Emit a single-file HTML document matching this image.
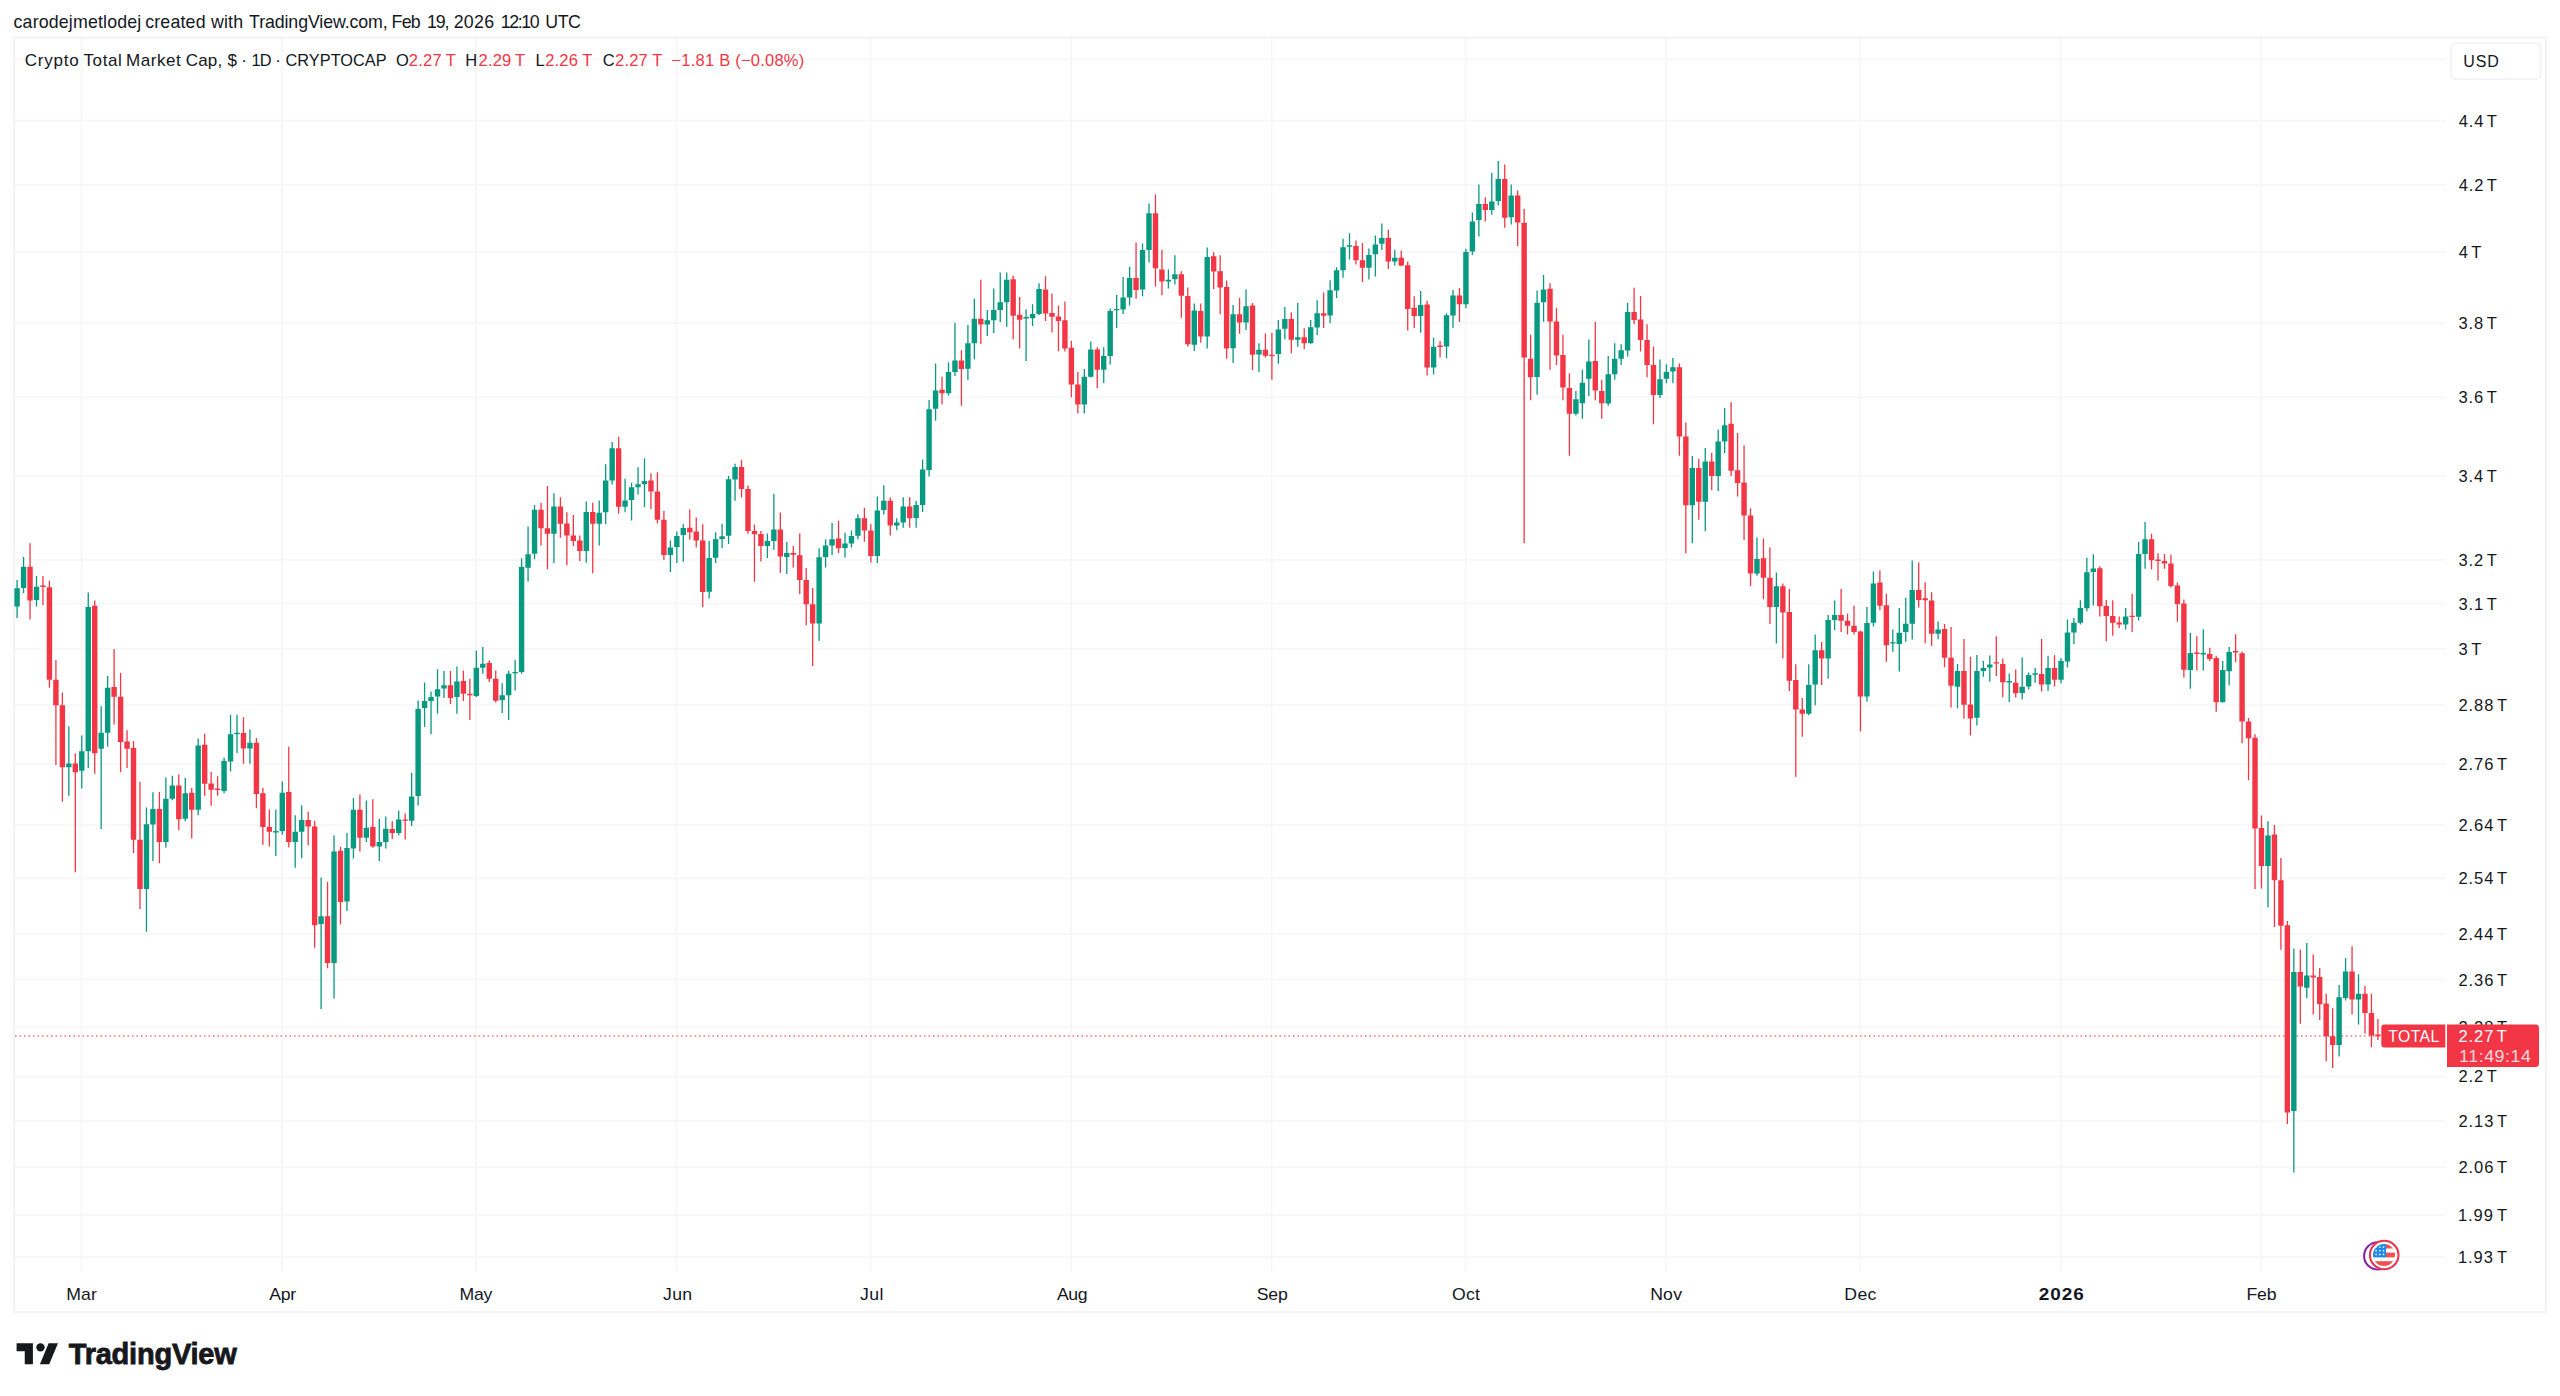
<!DOCTYPE html>
<html lang="en"><head><meta charset="utf-8"><title>Crypto Total Market Cap, $ · 1D · CRYPTOCAP</title>
<style>html,body{margin:0;padding:0;background:#fff;}body{width:2560px;height:1396px;overflow:hidden;}svg{display:block;position:absolute;left:0;top:0;}text{font-family:"Liberation Sans", sans-serif;white-space:pre;}</style></head><body>
<svg width="2560" height="1396" viewBox="0 0 2560 1396">
<rect x="0" y="0" width="2560" height="1396" fill="#fff"/>
<g stroke="#F7F7F9" stroke-width="1.8" fill="none">
<path d="M14.0 59.4H2445.5"/>
<path d="M14.0 120.7H2445.5"/>
<path d="M14.0 184.9H2445.5"/>
<path d="M14.0 252.1H2445.5"/>
<path d="M14.0 322.9H2445.5"/>
<path d="M14.0 397.4H2445.5"/>
<path d="M14.0 476.2H2445.5"/>
<path d="M14.0 559.8H2445.5"/>
<path d="M14.0 603.6H2445.5"/>
<path d="M14.0 648.8H2445.5"/>
<path d="M14.0 705.1H2445.5"/>
<path d="M14.0 763.8H2445.5"/>
<path d="M14.0 825.1H2445.5"/>
<path d="M14.0 878.4H2445.5"/>
<path d="M14.0 933.8H2445.5"/>
<path d="M14.0 979.7H2445.5"/>
<path d="M14.0 1027.3H2445.5"/>
<path d="M14.0 1076.5H2445.5"/>
<path d="M14.0 1121.1H2445.5"/>
<path d="M14.0 1167.2H2445.5"/>
<path d="M14.0 1214.9H2445.5"/>
<path d="M14.0 1257.1H2445.5"/>
<path d="M81.5 37.6V1272.5"/>
<path d="M282.0 37.6V1272.5"/>
<path d="M476.0 37.6V1272.5"/>
<path d="M676.5 37.6V1272.5"/>
<path d="M870.6 37.6V1272.5"/>
<path d="M1071.1 37.6V1272.5"/>
<path d="M1271.6 37.6V1272.5"/>
<path d="M1465.6 37.6V1272.5"/>
<path d="M1666.1 37.6V1272.5"/>
<path d="M1860.2 37.6V1272.5"/>
<path d="M2060.7 37.6V1272.5"/>
<path d="M2261.2 37.6V1272.5"/>
</g>
<rect x="14.0" y="37.6" width="2532.0" height="1274.6000000000001" fill="none" stroke="#F4F4F7" stroke-width="2.2"/>
<path d="M15.0 1036H2381" stroke="#F23645" stroke-width="1.4" stroke-dasharray="1.6 2.9" fill="none" opacity="0.7"/>
<path fill="#089981" d="M16.45 579.9h1.3V618.1h-1.3zM14.40 588.2h5.4V606.4h-5.4zM22.92 557.0h1.3V593.1h-1.3zM20.87 566.7h5.4V587.9h-5.4zM35.85 576.1h1.3V606.4h-1.3zM33.80 586.7h5.4V599.9h-5.4zM68.19 726.2h1.3V795.8h-1.3zM66.14 763.5h5.4V767.3h-5.4zM81.13 735.6h1.3V788.5h-1.3zM79.08 751.2h5.4V770.8h-5.4zM87.60 592.6h1.3V767.9h-1.3zM85.55 606.9h5.4V751.2h-5.4zM100.53 706.2h1.3V829.0h-1.3zM98.48 732.7h5.4V748.8h-5.4zM107.00 676.0h1.3V746.5h-1.3zM104.95 687.7h5.4V732.7h-5.4zM145.81 807.5h1.3V931.8h-1.3zM143.76 824.3h5.4V888.9h-5.4zM152.28 792.3h1.3V861.0h-1.3zM150.23 809.0h5.4V824.6h-5.4zM165.21 777.6h1.3V847.8h-1.3zM163.16 798.7h5.4V841.9h-5.4zM171.68 775.8h1.3V800.2h-1.3zM169.63 785.5h5.4V798.7h-5.4zM184.62 777.9h1.3V821.2h-1.3zM182.57 793.3h5.4V818.8h-5.4zM197.55 738.5h1.3V815.3h-1.3zM195.50 745.6h5.4V809.8h-5.4zM223.43 757.4h1.3V793.3h-1.3zM221.38 760.9h5.4V790.9h-5.4zM229.89 714.8h1.3V771.6h-1.3zM227.84 734.2h5.4V761.6h-5.4zM236.36 714.8h1.3V753.1h-1.3zM234.31 732.8h5.4V734.2h-5.4zM249.30 729.5h1.3V763.8h-1.3zM247.25 742.7h5.4V748.4h-5.4zM275.17 809.4h1.3V855.9h-1.3zM273.12 831.1h5.4V832.5h-5.4zM281.64 781.5h1.3V834.7h-1.3zM279.59 792.8h5.4V831.1h-5.4zM294.57 815.3h1.3V867.8h-1.3zM292.52 831.8h5.4V842.0h-5.4zM301.04 805.4h1.3V858.3h-1.3zM298.99 820.0h5.4V831.8h-5.4zM320.45 877.5h1.3V1009.1h-1.3zM318.40 916.2h5.4V924.0h-5.4zM333.38 835.4h1.3V998.5h-1.3zM331.33 851.5h5.4V963.0h-5.4zM346.32 833.0h1.3V911.0h-1.3zM344.27 847.9h5.4V901.6h-5.4zM352.79 798.0h1.3V858.5h-1.3zM350.74 809.8h5.4V848.4h-5.4zM365.72 800.4h1.3V842.0h-1.3zM363.67 827.8h5.4V837.7h-5.4zM378.66 818.8h1.3V860.9h-1.3zM376.61 842.0h5.4V846.5h-5.4zM385.13 816.5h1.3V848.4h-1.3zM383.08 828.8h5.4V842.0h-5.4zM398.06 810.6h1.3V835.4h-1.3zM396.01 819.5h5.4V833.0h-5.4zM411.00 772.7h1.3V825.9h-1.3zM408.95 796.4h5.4V820.7h-5.4zM417.47 700.6h1.3V805.4h-1.3zM415.42 708.9h5.4V795.9h-5.4zM423.93 682.6h1.3V727.0h-1.3zM421.88 701.0h5.4V708.1h-5.4zM430.40 691.5h1.3V734.3h-1.3zM428.35 697.0h5.4V701.0h-5.4zM436.87 669.3h1.3V713.7h-1.3zM434.82 689.3h5.4V696.4h-5.4zM443.34 671.0h1.3V698.1h-1.3zM441.29 685.3h5.4V688.6h-5.4zM456.27 666.4h1.3V713.7h-1.3zM454.22 681.5h5.4V697.0h-5.4zM475.68 650.4h1.3V697.0h-1.3zM473.63 667.7h5.4V695.9h-5.4zM482.15 647.1h1.3V673.7h-1.3zM480.10 663.7h5.4V667.7h-5.4zM501.55 683.3h1.3V713.0h-1.3zM499.50 695.3h5.4V699.9h-5.4zM508.02 670.8h1.3V719.9h-1.3zM505.97 673.7h5.4V695.3h-5.4zM514.49 659.7h1.3V690.4h-1.3zM512.44 671.9h5.4V673.3h-5.4zM520.95 558.2h1.3V673.7h-1.3zM518.90 567.1h5.4V671.9h-5.4zM527.42 526.5h1.3V581.6h-1.3zM525.37 554.2h5.4V567.8h-5.4zM533.89 504.9h1.3V559.3h-1.3zM531.84 509.8h5.4V553.8h-5.4zM553.29 493.2h1.3V563.1h-1.3zM551.24 506.5h5.4V533.8h-5.4zM585.63 501.6h1.3V562.7h-1.3zM583.58 512.0h5.4V551.1h-5.4zM598.57 500.5h1.3V545.6h-1.3zM596.52 512.7h5.4V523.8h-5.4zM605.04 464.3h1.3V524.3h-1.3zM602.99 480.5h5.4V512.3h-5.4zM611.51 442.1h1.3V484.5h-1.3zM609.46 448.3h5.4V480.5h-5.4zM624.44 478.7h1.3V512.3h-1.3zM622.39 500.5h5.4V506.7h-5.4zM630.91 482.7h1.3V520.5h-1.3zM628.86 487.2h5.4V500.1h-5.4zM637.38 467.2h1.3V494.5h-1.3zM635.33 484.3h5.4V487.2h-5.4zM643.85 458.3h1.3V507.2h-1.3zM641.80 481.0h5.4V484.3h-5.4zM669.72 540.5h1.3V572.0h-1.3zM667.67 547.6h5.4V554.9h-5.4zM676.19 531.6h1.3V563.1h-1.3zM674.14 536.0h5.4V547.1h-5.4zM682.65 524.2h1.3V561.7h-1.3zM680.60 528.0h5.4V534.9h-5.4zM708.53 540.9h1.3V598.5h-1.3zM706.48 558.1h5.4V591.8h-5.4zM714.99 532.3h1.3V562.9h-1.3zM712.94 539.2h5.4V557.8h-5.4zM721.46 523.7h1.3V548.3h-1.3zM719.41 536.3h5.4V538.9h-5.4zM727.93 475.8h1.3V544.0h-1.3zM725.88 479.2h5.4V535.8h-5.4zM734.40 463.7h1.3V500.7h-1.3zM732.35 467.0h5.4V479.5h-5.4zM766.74 533.4h1.3V558.1h-1.3zM764.69 540.9h5.4V546.1h-5.4zM773.21 493.8h1.3V550.0h-1.3zM771.16 529.4h5.4V540.9h-5.4zM786.14 541.9h1.3V574.1h-1.3zM784.09 553.1h5.4V556.9h-5.4zM818.48 548.3h1.3V641.1h-1.3zM816.43 557.2h5.4V623.6h-5.4zM824.95 539.2h1.3V567.6h-1.3zM822.90 545.4h5.4V556.9h-5.4zM831.42 523.0h1.3V555.2h-1.3zM829.37 539.2h5.4V545.4h-5.4zM844.35 532.8h1.3V557.4h-1.3zM842.30 543.5h5.4V548.0h-5.4zM850.82 530.6h1.3V547.4h-1.3zM848.77 535.9h5.4V543.5h-5.4zM857.29 514.3h1.3V539.2h-1.3zM855.24 518.2h5.4V535.8h-5.4zM876.69 496.4h1.3V562.9h-1.3zM874.64 510.5h5.4V556.0h-5.4zM883.16 485.2h1.3V514.4h-1.3zM881.11 500.7h5.4V510.1h-5.4zM896.10 518.2h1.3V530.3h-1.3zM894.05 522.5h5.4V525.4h-5.4zM902.57 497.2h1.3V527.7h-1.3zM900.52 506.5h5.4V522.5h-5.4zM915.50 500.7h1.3V527.7h-1.3zM913.45 505.0h5.4V517.9h-5.4zM921.97 459.4h1.3V511.9h-1.3zM919.92 469.6h5.4V505.0h-5.4zM928.44 400.1h1.3V476.4h-1.3zM926.39 409.2h5.4V470.0h-5.4zM934.91 363.4h1.3V420.7h-1.3zM932.86 390.4h5.4V408.8h-5.4zM947.84 362.2h1.3V395.5h-1.3zM945.79 372.1h5.4V393.2h-5.4zM954.31 322.8h1.3V376.0h-1.3zM952.26 360.6h5.4V372.1h-5.4zM967.25 325.1h1.3V379.9h-1.3zM965.20 343.2h5.4V368.7h-5.4zM973.71 298.5h1.3V359.3h-1.3zM971.66 318.7h5.4V343.2h-5.4zM986.65 310.0h1.3V335.9h-1.3zM984.60 320.3h5.4V324.4h-5.4zM993.12 288.4h1.3V333.1h-1.3zM991.07 310.0h5.4V320.3h-5.4zM999.59 272.4h1.3V322.1h-1.3zM997.54 302.2h5.4V310.0h-5.4zM1006.05 272.4h1.3V326.7h-1.3zM1004.00 279.7h5.4V302.2h-5.4zM1025.46 309.5h1.3V361.1h-1.3zM1023.41 317.0h5.4V318.4h-5.4zM1031.93 304.2h1.3V326.0h-1.3zM1029.88 314.1h5.4V318.2h-5.4zM1038.39 283.2h1.3V315.2h-1.3zM1036.34 288.9h5.4V314.1h-5.4zM1083.67 369.1h1.3V413.4h-1.3zM1081.62 376.7h5.4V404.6h-5.4zM1090.14 341.6h1.3V377.6h-1.3zM1088.09 349.6h5.4V376.7h-5.4zM1103.07 347.3h1.3V382.9h-1.3zM1101.02 356.0h5.4V369.8h-5.4zM1109.54 308.4h1.3V364.5h-1.3zM1107.49 311.1h5.4V356.0h-5.4zM1116.01 295.1h1.3V327.9h-1.3zM1113.96 308.9h5.4V310.3h-5.4zM1122.48 277.0h1.3V314.1h-1.3zM1120.43 297.4h5.4V309.5h-5.4zM1128.95 267.1h1.3V305.4h-1.3zM1126.90 277.9h5.4V297.4h-5.4zM1141.88 243.5h1.3V296.2h-1.3zM1139.83 249.9h5.4V289.6h-5.4zM1148.35 203.4h1.3V262.5h-1.3zM1146.30 213.2h5.4V249.9h-5.4zM1167.75 269.4h1.3V288.4h-1.3zM1165.70 279.7h5.4V281.5h-5.4zM1174.22 255.2h1.3V284.5h-1.3zM1172.17 274.2h5.4V279.2h-5.4zM1193.63 303.4h1.3V351.1h-1.3zM1191.58 310.6h5.4V344.7h-5.4zM1206.56 247.6h1.3V348.6h-1.3zM1204.51 257.0h5.4V336.5h-5.4zM1232.43 304.9h1.3V362.9h-1.3zM1230.38 314.2h5.4V348.3h-5.4zM1245.37 289.5h1.3V330.1h-1.3zM1243.32 306.3h5.4V322.5h-5.4zM1258.31 343.3h1.3V371.9h-1.3zM1256.26 349.7h5.4V354.4h-5.4zM1277.71 319.9h1.3V363.8h-1.3zM1275.66 329.4h5.4V354.0h-5.4zM1284.18 307.0h1.3V339.3h-1.3zM1282.13 318.9h5.4V328.7h-5.4zM1297.11 302.9h1.3V346.8h-1.3zM1295.06 337.2h5.4V339.7h-5.4zM1310.05 319.9h1.3V343.7h-1.3zM1308.00 327.2h5.4V343.3h-5.4zM1316.52 300.3h1.3V335.1h-1.3zM1314.47 313.2h5.4V327.5h-5.4zM1329.45 280.2h1.3V323.2h-1.3zM1327.40 290.3h5.4V315.6h-5.4zM1335.92 267.3h1.3V298.1h-1.3zM1333.87 270.2h5.4V290.5h-5.4zM1342.39 238.7h1.3V277.8h-1.3zM1340.34 247.3h5.4V270.2h-5.4zM1348.86 233.2h1.3V259.5h-1.3zM1346.81 245.3h5.4V246.7h-5.4zM1368.26 248.4h1.3V279.5h-1.3zM1366.21 254.9h5.4V267.8h-5.4zM1374.73 235.4h1.3V276.4h-1.3zM1372.68 244.4h5.4V254.2h-5.4zM1381.20 223.4h1.3V250.1h-1.3zM1379.15 238.0h5.4V243.7h-5.4zM1394.13 249.7h1.3V265.6h-1.3zM1392.08 257.7h5.4V261.6h-5.4zM1420.01 291.0h1.3V332.8h-1.3zM1417.96 305.0h5.4V316.0h-5.4zM1432.94 337.8h1.3V374.4h-1.3zM1430.89 346.8h5.4V367.6h-5.4zM1445.88 313.2h1.3V358.3h-1.3zM1443.83 315.3h5.4V346.6h-5.4zM1452.35 289.9h1.3V327.7h-1.3zM1450.30 295.5h5.4V315.4h-5.4zM1465.28 248.8h1.3V308.3h-1.3zM1463.23 252.1h5.4V304.3h-5.4zM1471.75 212.6h1.3V255.0h-1.3zM1469.70 221.5h5.4V251.5h-5.4zM1478.22 184.4h1.3V236.6h-1.3zM1476.17 204.0h5.4V219.9h-5.4zM1491.15 172.9h1.3V214.8h-1.3zM1489.10 201.5h5.4V210.0h-5.4zM1497.62 161.1h1.3V205.5h-1.3zM1495.57 178.9h5.4V201.1h-5.4zM1510.56 184.4h1.3V224.4h-1.3zM1508.51 195.5h5.4V217.3h-5.4zM1536.43 290.6h1.3V394.7h-1.3zM1534.38 302.8h5.4V376.9h-5.4zM1542.90 275.0h1.3V321.7h-1.3zM1540.85 289.5h5.4V302.3h-5.4zM1575.24 390.9h1.3V415.4h-1.3zM1573.19 399.2h5.4V413.8h-5.4zM1581.71 369.8h1.3V418.7h-1.3zM1579.66 382.7h5.4V403.2h-5.4zM1588.17 339.4h1.3V396.0h-1.3zM1586.12 361.6h5.4V378.7h-5.4zM1607.58 355.9h1.3V405.8h-1.3zM1605.53 374.3h5.4V403.6h-5.4zM1614.05 343.2h1.3V379.8h-1.3zM1612.00 358.7h5.4V374.3h-5.4zM1620.51 344.3h1.3V365.0h-1.3zM1618.46 350.3h5.4V358.7h-5.4zM1626.98 302.8h1.3V356.5h-1.3zM1624.93 312.1h5.4V350.5h-5.4zM1659.32 359.4h1.3V398.0h-1.3zM1657.27 379.2h5.4V394.9h-5.4zM1665.79 364.3h1.3V383.2h-1.3zM1663.74 372.1h5.4V378.7h-5.4zM1672.26 358.1h1.3V383.2h-1.3zM1670.21 367.2h5.4V371.6h-5.4zM1691.66 455.9h1.3V543.3h-1.3zM1689.61 467.9h5.4V505.2h-5.4zM1704.60 447.9h1.3V531.3h-1.3zM1702.55 461.6h5.4V501.7h-5.4zM1717.53 429.5h1.3V491.1h-1.3zM1715.48 441.6h5.4V476.0h-5.4zM1724.00 408.1h1.3V453.0h-1.3zM1721.95 425.2h5.4V441.6h-5.4zM1756.34 537.6h1.3V575.7h-1.3zM1754.29 559.1h5.4V573.4h-5.4zM1775.75 572.5h1.3V643.6h-1.3zM1773.70 586.3h5.4V606.9h-5.4zM1808.09 664.2h1.3V715.2h-1.3zM1806.04 685.1h5.4V713.8h-5.4zM1814.55 634.4h1.3V705.2h-1.3zM1812.50 650.2h5.4V684.6h-5.4zM1827.49 614.9h1.3V678.5h-1.3zM1825.44 620.1h5.4V658.5h-5.4zM1833.96 600.6h1.3V630.1h-1.3zM1831.91 614.9h5.4V620.1h-5.4zM1866.30 606.9h1.3V701.5h-1.3zM1864.25 623.0h5.4V696.6h-5.4zM1872.77 571.4h1.3V626.4h-1.3zM1870.72 583.4h5.4V622.7h-5.4zM1892.17 629.5h1.3V651.7h-1.3zM1890.12 642.2h5.4V643.6h-5.4zM1898.64 608.1h1.3V671.4h-1.3zM1896.59 632.8h5.4V643.9h-5.4zM1905.11 598.0h1.3V641.7h-1.3zM1903.06 623.8h5.4V632.0h-5.4zM1911.57 560.5h1.3V639.6h-1.3zM1909.52 590.1h5.4V623.8h-5.4zM1937.45 621.4h1.3V639.3h-1.3zM1935.40 629.5h5.4V633.8h-5.4zM1956.85 663.9h1.3V708.3h-1.3zM1954.80 671.1h5.4V686.8h-5.4zM1976.25 654.9h1.3V725.5h-1.3zM1974.20 671.1h5.4V717.7h-5.4zM1982.72 661.1h1.3V676.8h-1.3zM1980.67 667.9h5.4V671.1h-5.4zM1989.19 655.6h1.3V681.8h-1.3zM1987.14 664.4h5.4V667.5h-5.4zM2008.59 673.5h1.3V701.9h-1.3zM2006.54 681.0h5.4V682.4h-5.4zM2021.53 657.5h1.3V699.5h-1.3zM2019.48 686.8h5.4V692.9h-5.4zM2028.00 672.5h1.3V689.4h-1.3zM2025.95 675.1h5.4V686.6h-5.4zM2034.47 667.9h1.3V682.8h-1.3zM2032.42 673.2h5.4V674.7h-5.4zM2047.40 655.8h1.3V690.9h-1.3zM2045.35 667.9h5.4V684.4h-5.4zM2060.34 657.9h1.3V683.3h-1.3zM2058.29 661.1h5.4V679.7h-5.4zM2066.81 619.5h1.3V667.5h-1.3zM2064.76 632.4h5.4V661.5h-5.4zM2073.27 618.1h1.3V643.9h-1.3zM2071.22 622.8h5.4V632.4h-5.4zM2079.74 600.2h1.3V624.5h-1.3zM2077.69 608.1h5.4V622.8h-5.4zM2086.21 557.9h1.3V611.2h-1.3zM2084.16 572.2h5.4V608.3h-5.4zM2092.68 554.3h1.3V605.6h-1.3zM2090.63 568.4h5.4V571.9h-5.4zM2125.02 608.1h1.3V629.5h-1.3zM2122.97 616.6h5.4V624.5h-5.4zM2137.95 542.1h1.3V620.4h-1.3zM2135.90 553.9h5.4V616.7h-5.4zM2144.42 522.0h1.3V568.7h-1.3zM2142.37 539.3h5.4V554.1h-5.4zM2189.70 632.9h1.3V688.8h-1.3zM2187.65 653.0h5.4V670.1h-5.4zM2202.63 629.3h1.3V670.6h-1.3zM2200.58 653.0h5.4V654.4h-5.4zM2222.04 660.9h1.3V702.8h-1.3zM2219.99 670.1h5.4V701.9h-5.4zM2228.51 646.9h1.3V685.2h-1.3zM2226.46 651.9h5.4V671.2h-5.4zM2267.31 821.2h1.3V907.5h-1.3zM2265.26 835.4h5.4V866.1h-5.4zM2293.19 948.4h1.3V1172.4h-1.3zM2291.14 972.0h5.4V1110.9h-5.4zM2306.12 942.9h1.3V998.2h-1.3zM2304.07 975.6h5.4V987.8h-5.4zM2338.46 985.1h1.3V1056.4h-1.3zM2336.41 997.3h5.4V1045.0h-5.4zM2344.93 957.9h1.3V1000.6h-1.3zM2342.88 971.5h5.4V997.9h-5.4zM2357.87 974.2h1.3V1024.6h-1.3zM2355.82 993.8h5.4V999.5h-5.4z"/>
<path fill="#F23645" d="M29.39 543.2h1.3V619.6h-1.3zM27.34 566.7h5.4V600.5h-5.4zM42.32 576.1h1.3V604.9h-1.3zM40.27 585.5h5.4V586.9h-5.4zM48.79 580.8h1.3V687.7h-1.3zM46.74 587.3h5.4V679.8h-5.4zM55.26 660.1h1.3V765.0h-1.3zM53.21 679.8h5.4V705.3h-5.4zM61.73 692.4h1.3V801.7h-1.3zM59.68 705.3h5.4V767.3h-5.4zM74.66 753.2h1.3V872.2h-1.3zM72.61 763.5h5.4V772.3h-5.4zM94.07 600.5h1.3V773.8h-1.3zM92.02 605.8h5.4V753.2h-5.4zM113.47 648.9h1.3V724.4h-1.3zM111.42 687.1h5.4V696.8h-5.4zM119.94 673.0h1.3V772.3h-1.3zM117.89 696.8h5.4V742.0h-5.4zM126.41 730.3h1.3V767.9h-1.3zM124.36 741.5h5.4V748.8h-5.4zM132.87 740.9h1.3V853.1h-1.3zM130.82 747.9h5.4V839.8h-5.4zM139.34 781.7h1.3V908.9h-1.3zM137.29 839.8h5.4V888.9h-5.4zM158.75 792.0h1.3V863.3h-1.3zM156.70 809.0h5.4V841.9h-5.4zM178.15 774.4h1.3V830.2h-1.3zM176.10 785.5h5.4V819.3h-5.4zM191.09 788.1h1.3V838.5h-1.3zM189.04 792.8h5.4V809.8h-5.4zM204.02 733.7h1.3V795.7h-1.3zM201.97 744.8h5.4V783.8h-5.4zM210.49 772.0h1.3V805.8h-1.3zM208.44 783.4h5.4V789.8h-5.4zM216.96 776.3h1.3V795.7h-1.3zM214.91 788.6h5.4V790.0h-5.4zM242.83 717.2h1.3V763.8h-1.3zM240.78 733.0h5.4V748.4h-5.4zM255.77 738.0h1.3V808.2h-1.3zM253.72 742.7h5.4V794.0h-5.4zM262.23 788.1h1.3V844.8h-1.3zM260.18 793.3h5.4V827.1h-5.4zM268.70 809.4h1.3V846.5h-1.3zM266.65 827.1h5.4V831.8h-5.4zM288.11 746.7h1.3V847.2h-1.3zM286.06 792.1h5.4V842.0h-5.4zM307.51 811.7h1.3V845.3h-1.3zM305.46 820.0h5.4V826.6h-5.4zM313.98 820.7h1.3V947.7h-1.3zM311.93 826.4h5.4V925.2h-5.4zM326.91 881.9h1.3V968.2h-1.3zM324.86 916.2h5.4V963.0h-5.4zM339.85 846.7h1.3V924.5h-1.3zM337.80 850.7h5.4V902.0h-5.4zM359.25 794.5h1.3V851.5h-1.3zM357.20 809.8h5.4V837.7h-5.4zM372.19 799.2h1.3V847.7h-1.3zM370.14 827.1h5.4V846.5h-5.4zM391.59 821.2h1.3V838.9h-1.3zM389.54 829.0h5.4V833.0h-5.4zM404.53 813.4h1.3V839.6h-1.3zM402.48 819.4h5.4V820.8h-5.4zM449.81 671.0h1.3V704.1h-1.3zM447.76 685.3h5.4V698.1h-5.4zM462.74 670.4h1.3V701.0h-1.3zM460.69 681.0h5.4V693.7h-5.4zM469.21 678.8h1.3V719.9h-1.3zM467.16 693.7h5.4V695.3h-5.4zM488.61 660.4h1.3V682.1h-1.3zM486.56 663.1h5.4V678.8h-5.4zM495.08 670.4h1.3V702.6h-1.3zM493.03 678.8h5.4V700.8h-5.4zM540.36 502.7h1.3V545.6h-1.3zM538.31 509.8h5.4V528.3h-5.4zM546.83 486.1h1.3V569.3h-1.3zM544.78 528.3h5.4V533.8h-5.4zM559.76 497.2h1.3V537.8h-1.3zM557.71 506.5h5.4V523.8h-5.4zM566.23 512.3h1.3V565.3h-1.3zM564.18 523.4h5.4V535.6h-5.4zM572.70 514.9h1.3V546.0h-1.3zM570.65 535.4h5.4V540.9h-5.4zM579.17 535.4h1.3V560.9h-1.3zM577.12 540.5h5.4V551.1h-5.4zM592.10 502.7h1.3V573.3h-1.3zM590.05 512.0h5.4V523.8h-5.4zM617.97 436.8h1.3V513.8h-1.3zM615.92 448.3h5.4V506.7h-5.4zM650.31 473.2h1.3V508.9h-1.3zM648.26 480.5h5.4V491.6h-5.4zM656.78 472.3h1.3V523.4h-1.3zM654.73 491.6h5.4V519.8h-5.4zM663.25 510.9h1.3V560.0h-1.3zM661.20 519.8h5.4V554.9h-5.4zM689.12 509.6h1.3V539.7h-1.3zM687.07 527.7h5.4V532.3h-5.4zM695.59 517.4h1.3V547.4h-1.3zM693.54 531.6h5.4V540.6h-5.4zM702.06 524.2h1.3V607.1h-1.3zM700.01 540.6h5.4V592.1h-5.4zM740.87 459.8h1.3V497.6h-1.3zM738.82 467.0h5.4V489.0h-5.4zM747.33 485.6h1.3V533.7h-1.3zM745.28 489.0h5.4V531.1h-5.4zM753.80 524.6h1.3V581.8h-1.3zM751.75 531.1h5.4V534.2h-5.4zM760.27 531.1h1.3V561.5h-1.3zM758.22 534.0h5.4V546.1h-5.4zM779.67 512.6h1.3V572.7h-1.3zM777.62 529.4h5.4V556.6h-5.4zM792.61 546.1h1.3V567.6h-1.3zM790.56 553.1h5.4V554.8h-5.4zM799.08 533.4h1.3V594.2h-1.3zM797.03 555.2h5.4V580.1h-5.4zM805.55 568.1h1.3V625.2h-1.3zM803.50 580.1h5.4V604.2h-5.4zM812.01 587.9h1.3V666.1h-1.3zM809.96 604.2h5.4V623.6h-5.4zM837.89 520.8h1.3V553.1h-1.3zM835.84 538.5h5.4V548.3h-5.4zM863.76 507.9h1.3V541.8h-1.3zM861.71 518.2h5.4V530.6h-5.4zM870.23 524.2h1.3V562.4h-1.3zM868.18 530.6h5.4V556.0h-5.4zM889.63 497.2h1.3V535.4h-1.3zM887.58 500.7h5.4V525.4h-5.4zM909.03 497.2h1.3V527.7h-1.3zM906.98 506.5h5.4V518.2h-5.4zM941.37 376.7h1.3V404.2h-1.3zM939.32 389.7h5.4V393.2h-5.4zM960.78 350.3h1.3V405.8h-1.3zM958.73 360.6h5.4V369.1h-5.4zM980.18 279.7h1.3V343.9h-1.3zM978.13 318.7h5.4V324.4h-5.4zM1012.52 275.8h1.3V339.3h-1.3zM1010.47 279.3h5.4V315.7h-5.4zM1018.99 296.9h1.3V348.5h-1.3zM1016.94 314.8h5.4V319.8h-5.4zM1044.86 276.3h1.3V321.0h-1.3zM1042.81 289.6h5.4V313.4h-5.4zM1051.33 293.5h1.3V332.4h-1.3zM1049.28 313.0h5.4V316.8h-5.4zM1057.80 305.4h1.3V351.2h-1.3zM1055.75 316.4h5.4V321.0h-5.4zM1064.27 301.5h1.3V351.5h-1.3zM1062.22 320.3h5.4V348.5h-5.4zM1070.73 341.1h1.3V397.3h-1.3zM1068.68 347.8h5.4V384.5h-5.4zM1077.20 372.1h1.3V413.4h-1.3zM1075.15 384.5h5.4V404.6h-5.4zM1096.61 347.3h1.3V388.1h-1.3zM1094.56 349.6h5.4V369.8h-5.4zM1135.41 242.6h1.3V298.7h-1.3zM1133.36 277.9h5.4V290.0h-5.4zM1154.82 194.4h1.3V286.6h-1.3zM1152.77 213.2h5.4V268.3h-5.4zM1161.29 249.9h1.3V295.3h-1.3zM1159.24 269.4h5.4V281.5h-5.4zM1180.69 271.2h1.3V317.8h-1.3zM1178.64 274.2h5.4V295.7h-5.4zM1187.16 287.4h1.3V346.4h-1.3zM1185.11 296.0h5.4V344.3h-5.4zM1200.09 303.4h1.3V342.8h-1.3zM1198.04 311.0h5.4V336.5h-5.4zM1213.03 252.3h1.3V289.1h-1.3zM1210.98 256.3h5.4V271.6h-5.4zM1219.50 255.2h1.3V314.3h-1.3zM1217.45 271.2h5.4V287.4h-5.4zM1225.97 280.5h1.3V358.7h-1.3zM1223.92 287.0h5.4V348.6h-5.4zM1238.90 298.1h1.3V333.7h-1.3zM1236.85 314.2h5.4V322.5h-5.4zM1251.84 302.9h1.3V370.1h-1.3zM1249.79 305.6h5.4V354.7h-5.4zM1264.77 333.5h1.3V357.6h-1.3zM1262.72 349.7h5.4V355.7h-5.4zM1271.24 332.8h1.3V379.8h-1.3zM1269.19 354.7h5.4V356.1h-5.4zM1290.65 312.2h1.3V353.3h-1.3zM1288.60 318.9h5.4V339.7h-5.4zM1303.58 328.2h1.3V349.0h-1.3zM1301.53 337.2h5.4V343.3h-5.4zM1322.99 292.4h1.3V327.9h-1.3zM1320.94 313.2h5.4V315.8h-5.4zM1355.33 240.4h1.3V264.5h-1.3zM1353.28 246.1h5.4V260.2h-5.4zM1361.79 243.0h1.3V282.1h-1.3zM1359.74 260.2h5.4V267.8h-5.4zM1387.67 229.7h1.3V268.8h-1.3zM1385.62 238.0h5.4V261.6h-5.4zM1400.60 250.4h1.3V266.2h-1.3zM1398.55 257.7h5.4V265.5h-5.4zM1407.07 261.6h1.3V330.4h-1.3zM1405.02 265.2h5.4V308.9h-5.4zM1413.54 296.3h1.3V327.9h-1.3zM1411.49 307.7h5.4V316.0h-5.4zM1426.47 300.7h1.3V375.5h-1.3zM1424.42 304.6h5.4V367.6h-5.4zM1439.41 341.1h1.3V357.6h-1.3zM1437.36 345.6h5.4V347.0h-5.4zM1458.81 288.1h1.3V322.1h-1.3zM1456.76 295.5h5.4V304.3h-5.4zM1484.69 197.3h1.3V221.5h-1.3zM1482.64 204.0h5.4V210.0h-5.4zM1504.09 164.4h1.3V227.7h-1.3zM1502.04 178.9h5.4V217.7h-5.4zM1517.03 190.6h1.3V245.9h-1.3zM1514.98 195.5h5.4V222.6h-5.4zM1523.49 208.8h1.3V543.3h-1.3zM1521.44 222.8h5.4V357.6h-5.4zM1529.96 334.8h1.3V400.3h-1.3zM1527.91 358.7h5.4V377.2h-5.4zM1549.37 283.2h1.3V369.8h-1.3zM1547.32 288.8h5.4V321.4h-5.4zM1555.83 307.7h1.3V365.0h-1.3zM1553.78 321.4h5.4V355.4h-5.4zM1562.30 334.8h1.3V400.3h-1.3zM1560.25 355.0h5.4V387.6h-5.4zM1568.77 373.2h1.3V455.8h-1.3zM1566.72 388.1h5.4V413.8h-5.4zM1594.64 322.1h1.3V400.3h-1.3zM1592.59 361.0h5.4V390.5h-5.4zM1601.11 379.8h1.3V418.7h-1.3zM1599.06 390.9h5.4V403.2h-5.4zM1633.45 287.7h1.3V324.3h-1.3zM1631.40 312.1h5.4V319.9h-5.4zM1639.92 296.1h1.3V351.4h-1.3zM1637.87 319.4h5.4V339.9h-5.4zM1646.39 324.3h1.3V377.2h-1.3zM1644.34 339.9h5.4V365.0h-5.4zM1652.85 346.5h1.3V424.2h-1.3zM1650.80 365.0h5.4V394.9h-5.4zM1678.73 363.6h1.3V455.8h-1.3zM1676.68 367.2h5.4V436.5h-5.4zM1685.19 422.4h1.3V553.3h-1.3zM1683.14 436.4h5.4V505.2h-5.4zM1698.13 458.8h1.3V519.8h-1.3zM1696.08 467.9h5.4V501.7h-5.4zM1711.07 453.0h1.3V490.3h-1.3zM1709.02 461.6h5.4V476.0h-5.4zM1730.47 402.3h1.3V476.0h-1.3zM1728.42 423.8h5.4V470.8h-5.4zM1736.94 433.0h1.3V496.6h-1.3zM1734.89 470.2h5.4V483.1h-5.4zM1743.41 445.3h1.3V539.9h-1.3zM1741.36 482.6h5.4V515.5h-5.4zM1749.87 508.3h1.3V586.3h-1.3zM1747.82 515.5h5.4V573.4h-5.4zM1762.81 538.4h1.3V599.2h-1.3zM1760.76 558.2h5.4V577.7h-5.4zM1769.28 547.6h1.3V624.1h-1.3zM1767.23 577.7h5.4V606.9h-5.4zM1782.21 583.4h1.3V658.5h-1.3zM1780.16 586.3h5.4V612.6h-5.4zM1788.68 589.1h1.3V690.9h-1.3zM1786.63 612.1h5.4V680.8h-5.4zM1795.15 664.2h1.3V776.8h-1.3zM1793.10 680.0h5.4V709.5h-5.4zM1801.62 698.0h1.3V736.7h-1.3zM1799.57 709.5h5.4V713.8h-5.4zM1821.02 642.1h1.3V685.1h-1.3zM1818.97 650.2h5.4V658.5h-5.4zM1840.43 589.1h1.3V632.1h-1.3zM1838.38 614.9h5.4V620.7h-5.4zM1846.89 613.5h1.3V634.4h-1.3zM1844.84 620.7h5.4V625.8h-5.4zM1853.36 605.8h1.3V634.4h-1.3zM1851.31 625.8h5.4V632.1h-5.4zM1859.83 630.7h1.3V731.5h-1.3zM1857.78 631.5h5.4V696.6h-5.4zM1879.23 570.5h1.3V610.1h-1.3zM1877.18 582.6h5.4V605.8h-5.4zM1885.70 593.7h1.3V661.8h-1.3zM1883.65 605.2h5.4V645.3h-5.4zM1918.04 562.6h1.3V607.6h-1.3zM1915.99 590.1h5.4V599.9h-5.4zM1924.51 582.3h1.3V643.2h-1.3zM1922.46 598.3h5.4V600.2h-5.4zM1930.98 592.3h1.3V646.0h-1.3zM1928.93 600.5h5.4V633.8h-5.4zM1943.91 624.1h1.3V667.2h-1.3zM1941.86 629.1h5.4V657.8h-5.4zM1950.38 627.0h1.3V707.6h-1.3zM1948.33 657.8h5.4V685.8h-5.4zM1963.32 638.9h1.3V718.8h-1.3zM1961.27 671.1h5.4V704.8h-5.4zM1969.79 656.8h1.3V735.6h-1.3zM1967.74 704.5h5.4V718.4h-5.4zM1995.66 636.3h1.3V676.1h-1.3zM1993.61 662.2h5.4V663.6h-5.4zM2002.13 658.5h1.3V697.2h-1.3zM2000.08 663.9h5.4V682.3h-5.4zM2015.06 669.4h1.3V697.6h-1.3zM2013.01 682.8h5.4V693.3h-5.4zM2040.93 638.9h1.3V691.4h-1.3zM2038.88 674.0h5.4V684.4h-5.4zM2053.87 655.3h1.3V686.6h-1.3zM2051.82 667.9h5.4V679.7h-5.4zM2099.15 566.2h1.3V616.6h-1.3zM2097.10 568.2h5.4V606.3h-5.4zM2105.61 599.9h1.3V641.3h-1.3zM2103.56 605.9h5.4V615.9h-5.4zM2112.08 600.2h1.3V635.7h-1.3zM2110.03 615.9h5.4V622.8h-5.4zM2118.55 616.4h1.3V628.1h-1.3zM2116.50 622.4h5.4V624.5h-5.4zM2131.49 594.0h1.3V632.1h-1.3zM2129.44 615.7h5.4V617.1h-5.4zM2150.89 533.7h1.3V569.5h-1.3zM2148.84 539.3h5.4V560.3h-5.4zM2157.36 553.3h1.3V580.4h-1.3zM2155.31 559.4h5.4V561.1h-5.4zM2163.83 553.9h1.3V568.7h-1.3zM2161.78 561.1h5.4V563.6h-5.4zM2170.29 554.7h1.3V587.4h-1.3zM2168.24 563.6h5.4V586.0h-5.4zM2176.76 582.6h1.3V621.7h-1.3zM2174.71 585.4h5.4V604.1h-5.4zM2183.23 599.4h1.3V677.6h-1.3zM2181.18 603.6h5.4V669.8h-5.4zM2196.17 636.3h1.3V670.6h-1.3zM2194.12 652.5h5.4V653.9h-5.4zM2209.10 647.7h1.3V660.9h-1.3zM2207.05 653.9h5.4V658.9h-5.4zM2215.57 655.8h1.3V711.7h-1.3zM2213.52 658.1h5.4V702.2h-5.4zM2234.97 634.3h1.3V662.3h-1.3zM2232.92 651.1h5.4V652.5h-5.4zM2241.44 651.6h1.3V743.3h-1.3zM2239.39 653.3h5.4V721.5h-5.4zM2247.91 718.1h1.3V780.2h-1.3zM2245.86 721.5h5.4V738.2h-5.4zM2254.38 734.3h1.3V889.1h-1.3zM2252.33 737.7h5.4V828.5h-5.4zM2260.85 815.5h1.3V888.5h-1.3zM2258.80 828.0h5.4V866.1h-5.4zM2273.78 825.0h1.3V927.1h-1.3zM2271.73 834.6h5.4V880.3h-5.4zM2280.25 858.0h1.3V949.7h-1.3zM2278.20 880.3h5.4V925.8h-5.4zM2286.72 921.1h1.3V1123.9h-1.3zM2284.67 925.2h5.4V1112.5h-5.4zM2299.65 949.7h1.3V1023.8h-1.3zM2297.60 972.0h5.4V986.5h-5.4zM2312.59 954.6h1.3V1014.5h-1.3zM2310.54 975.6h5.4V977.5h-5.4zM2319.06 968.0h1.3V1019.9h-1.3zM2317.01 976.9h5.4V1004.2h-5.4zM2325.53 993.8h1.3V1061.3h-1.3zM2323.48 1003.6h5.4V1036.3h-5.4zM2331.99 1008.2h1.3V1068.1h-1.3zM2329.94 1036.3h5.4V1045.0h-5.4zM2351.40 946.2h1.3V1014.5h-1.3zM2349.35 971.5h5.4V999.5h-5.4zM2364.33 985.9h1.3V1033.6h-1.3zM2362.28 993.8h5.4V1013.1h-5.4zM2370.80 994.1h1.3V1047.2h-1.3zM2368.75 1013.1h5.4V1035.5h-5.4zM2377.27 1019.1h1.3V1040.1h-1.3zM2375.22 1034.6h5.4V1036.3h-5.4z"/>
<rect x="2450.8" y="43.2" width="89.9" height="36" rx="5" fill="#fff" stroke="#F0F1F4" stroke-width="1.6"/>
<g>
<defs><clipPath id="fc"><circle cx="2384" cy="1255" r="11"/></clipPath><linearGradient id="pg" x1="0" y1="0" x2="1" y2="0"><stop offset="0" stop-color="#7B1FA2"/><stop offset="0.45" stop-color="#9C27B0"/><stop offset="0.75" stop-color="#E91E63"/><stop offset="1" stop-color="#F23645"/></linearGradient></defs>
<circle cx="2377.7" cy="1255.9" r="13.6" fill="#fff" stroke="url(#pg)" stroke-width="2"/>
<circle cx="2384.2" cy="1255" r="14.3" fill="#fff" stroke="#E8364F" stroke-width="2.1"/>
<g clip-path="url(#fc)"><rect x="2372" y="1243" width="24" height="24" fill="#fff"/><rect x="2386" y="1244" width="12" height="4.5" fill="#EF5350"/><rect x="2386" y="1252.6" width="12" height="4.8" fill="#EF5350"/><rect x="2372" y="1261.2" width="24" height="6" fill="#EF5350"/><rect x="2372" y="1243" width="14.1" height="14.4" fill="#1E88E5"/>
<circle cx="2376.1" cy="1247.1" r="0.9" fill="#DDF0FF"/>
<circle cx="2379.8" cy="1247.1" r="0.9" fill="#DDF0FF"/>
<circle cx="2383.5" cy="1247.1" r="0.9" fill="#DDF0FF"/>
<circle cx="2376.1" cy="1250.7" r="0.9" fill="#DDF0FF"/>
<circle cx="2379.8" cy="1250.7" r="0.9" fill="#DDF0FF"/>
<circle cx="2383.5" cy="1250.7" r="0.9" fill="#DDF0FF"/>
<circle cx="2376.1" cy="1254.4" r="0.9" fill="#DDF0FF"/>
<circle cx="2379.8" cy="1254.4" r="0.9" fill="#DDF0FF"/>
<circle cx="2383.5" cy="1254.4" r="0.9" fill="#DDF0FF"/>
</g></g>
<text x="2458.80" y="126.6" font-size="16.5" font-weight="400" fill="#131722" letter-spacing="0.900" word-spacing="-2.90" >4.4 T</text>
<text x="2458.80" y="190.8" font-size="16.5" font-weight="400" fill="#131722" letter-spacing="0.900" word-spacing="-2.90" >4.2 T</text>
<text x="2458.80" y="258.0" font-size="16.5" font-weight="400" fill="#131722" letter-spacing="0.900" word-spacing="-2.75" >4 T</text>
<text x="2458.55" y="328.8" font-size="16.5" font-weight="400" fill="#131722" letter-spacing="0.900" word-spacing="-2.65" >3.8 T</text>
<text x="2458.55" y="403.3" font-size="16.5" font-weight="400" fill="#131722" letter-spacing="0.900" word-spacing="-2.65" >3.6 T</text>
<text x="2458.55" y="482.1" font-size="16.5" font-weight="400" fill="#131722" letter-spacing="0.900" word-spacing="-2.65" >3.4 T</text>
<text x="2458.55" y="565.7" font-size="16.5" font-weight="400" fill="#131722" letter-spacing="0.900" word-spacing="-2.65" >3.2 T</text>
<text x="2458.55" y="609.5" font-size="16.5" font-weight="400" fill="#131722" letter-spacing="0.900" word-spacing="-2.65" >3.1 T</text>
<text x="2458.55" y="654.7" font-size="16.5" font-weight="400" fill="#131722" letter-spacing="0.900" word-spacing="-2.50" >3 T</text>
<text x="2458.55" y="711.0" font-size="16.5" font-weight="400" fill="#131722" letter-spacing="0.900" word-spacing="-2.45" >2.88 T</text>
<text x="2458.55" y="769.7" font-size="16.5" font-weight="400" fill="#131722" letter-spacing="0.900" word-spacing="-2.45" >2.76 T</text>
<text x="2458.55" y="831.0" font-size="16.5" font-weight="400" fill="#131722" letter-spacing="0.900" word-spacing="-2.45" >2.64 T</text>
<text x="2458.55" y="884.3" font-size="16.5" font-weight="400" fill="#131722" letter-spacing="0.900" word-spacing="-2.45" >2.54 T</text>
<text x="2458.55" y="939.7" font-size="16.5" font-weight="400" fill="#131722" letter-spacing="0.900" word-spacing="-2.45" >2.44 T</text>
<text x="2458.55" y="985.6" font-size="16.5" font-weight="400" fill="#131722" letter-spacing="0.900" word-spacing="-2.45" >2.36 T</text>
<text x="2458.55" y="1033.2" font-size="16.5" font-weight="400" fill="#131722" letter-spacing="0.900" word-spacing="-2.45" >2.28 T</text>
<text x="2458.55" y="1082.4" font-size="16.5" font-weight="400" fill="#131722" letter-spacing="0.900" word-spacing="-2.65" >2.2 T</text>
<text x="2458.55" y="1127.0" font-size="16.5" font-weight="400" fill="#131722" letter-spacing="0.900" word-spacing="-2.45" >2.13 T</text>
<text x="2458.55" y="1173.1" font-size="16.5" font-weight="400" fill="#131722" letter-spacing="0.900" word-spacing="-2.45" >2.06 T</text>
<text x="2458.05" y="1220.8" font-size="16.5" font-weight="400" fill="#131722" letter-spacing="0.900" word-spacing="-1.95" >1.99 T</text>
<text x="2458.05" y="1263.0" font-size="16.5" font-weight="400" fill="#131722" letter-spacing="0.900" word-spacing="-1.95" >1.93 T</text>
<path d="M2384.3 1024.4H2445.3V1047.6H2384.3a3 3 0 0 1 -3 -3V1027.4a3 3 0 0 1 3 -3z" fill="#F23645"/>
<path d="M2447 1024.4H2535.5a3.5 3.5 0 0 1 3.5 3.5V1063.4a3.5 3.5 0 0 1 -3.5 3.5H2447z" fill="#F23645"/>
<text x="2388.35" y="1042.0" font-size="15.8" font-weight="400" fill="#FFFFFF" letter-spacing="0.363" >TOTAL</text>
<text x="2458.55" y="1042.2" font-size="16.5" font-weight="400" fill="#FFFFFF" letter-spacing="0.900" word-spacing="-2.75" >2.27 T</text>
<text transform="translate(2459.05 1062.0) scale(1.08 1)" font-size="16.5" font-weight="400" fill="#FFFFFF" letter-spacing="0.509" fill-opacity="0.82">11:49:14</text>
<g transform="translate(16.6 1338.5) scale(1.165)" fill="#17181C"><path d="M14 22H7V11H0V4h14v18zM28 22h-8l7.5-18h8L28 22z"/><circle cx="20.5" cy="7.6" r="3.6"/></g>
<text y="27.9" font-size="17.8" font-weight="400" fill="#131722"><tspan x="13.55" font-size="17.8" letter-spacing="0.157">carodejmetlodej </tspan><tspan x="145.15" font-size="17.8" letter-spacing="0.183">created </tspan><tspan x="210.90" font-size="17.8" letter-spacing="0.200">with </tspan><tspan x="249.10" font-size="17.8" letter-spacing="-0.117">TradingView.com, </tspan><tspan x="391.60" font-size="17.8" letter-spacing="-0.750">Feb </tspan><tspan x="427.05" font-size="17.8" letter-spacing="-1.225">19, </tspan><tspan x="453.70" font-size="17.8" letter-spacing="0.283">2026 </tspan><tspan x="500.85" font-size="17.8" letter-spacing="-1.400">12:10 </tspan><tspan x="545.35" font-size="17.8" letter-spacing="-0.550">UTC</tspan></text>
<text y="65.7" font-size="17" font-weight="400" fill="#131722"><tspan x="24.65" font-size="17" letter-spacing="0.800">Crypto </tspan><tspan x="83.50" font-size="17" letter-spacing="0.587">Total </tspan><tspan x="126.10" font-size="17" letter-spacing="0.530">Market </tspan><tspan x="185.75" font-size="17" letter-spacing="0.150">Cap, </tspan><tspan x="227.45" font-size="17" letter-spacing="0.000">$ </tspan><tspan x="241.30" font-size="17" letter-spacing="0.000">· </tspan><tspan x="251.45" font-size="16.3" letter-spacing="-0.750">1D </tspan><tspan x="275.30" font-size="17" letter-spacing="0.000">· </tspan><tspan x="285.55" font-size="16.3" letter-spacing="0.038">CRYPTOCAP</tspan></text>
<text x="395.95" y="65.7" font-size="16.5" font-weight="400" fill="#131722" letter-spacing="0.000" >O</text>
<text x="408.85" y="65.7" font-size="16.5" font-weight="400" fill="#F23645" letter-spacing="0.200" word-spacing="-0.55" >2.27 T</text>
<text x="465.25" y="65.7" font-size="16.5" font-weight="400" fill="#131722" letter-spacing="0.000" >H</text>
<text x="478.55" y="65.7" font-size="16.5" font-weight="400" fill="#F23645" letter-spacing="0.200" word-spacing="-0.85" >2.29 T</text>
<text x="535.55" y="65.7" font-size="16.5" font-weight="400" fill="#131722" letter-spacing="0.000" >L</text>
<text x="545.15" y="65.7" font-size="16.5" font-weight="400" fill="#F23645" letter-spacing="0.200" word-spacing="-0.35" >2.26 T</text>
<text x="602.65" y="65.7" font-size="16.5" font-weight="400" fill="#131722" letter-spacing="0.000" >C</text>
<text x="615.05" y="65.7" font-size="16.5" font-weight="400" fill="#F23645" letter-spacing="0.200" word-spacing="-0.15" >2.27 T</text>
<text x="671.45" y="65.7" font-size="16.5" font-weight="400" fill="#F23645" letter-spacing="0.233" >−1.81 B (−0.08%)</text>
<text x="2463.25" y="66.5" font-size="16" font-weight="400" fill="#131722" letter-spacing="0.875" >USD</text>
<text transform="translate(66.13 1300.0) scale(1.05 1)" font-size="16.8" font-weight="400" fill="#131722" letter-spacing="0.190" >Mar</text>
<text transform="translate(269.14 1300.0) scale(1.05 1)" font-size="16.8" font-weight="400" fill="#131722" letter-spacing="-0.167" >Apr</text>
<text transform="translate(459.53 1300.0) scale(1.05 1)" font-size="16.8" font-weight="400" fill="#131722" letter-spacing="-0.262" >May</text>
<text transform="translate(663.09 1300.0) scale(1.05 1)" font-size="16.8" font-weight="400" fill="#131722" letter-spacing="0.286" >Jun</text>
<text transform="translate(859.98 1300.0) scale(1.05 1)" font-size="16.8" font-weight="400" fill="#131722" letter-spacing="0.429" >Jul</text>
<text transform="translate(1056.88 1300.0) scale(1.05 1)" font-size="16.8" font-weight="400" fill="#131722" letter-spacing="-0.310" >Aug</text>
<text transform="translate(1256.64 1300.0) scale(1.05 1)" font-size="16.8" font-weight="400" fill="#131722" letter-spacing="-0.071" >Sep</text>
<text transform="translate(1451.88 1300.0) scale(1.05 1)" font-size="16.8" font-weight="400" fill="#131722" letter-spacing="0.333" >Oct</text>
<text transform="translate(1650.14 1300.0) scale(1.05 1)" font-size="16.8" font-weight="400" fill="#131722" letter-spacing="0.214" >Nov</text>
<text transform="translate(1844.28 1300.0) scale(1.05 1)" font-size="16.8" font-weight="400" fill="#131722" letter-spacing="0.357" >Dec</text>
<text transform="translate(2038.74 1300.0) scale(1.15 1)" font-size="16.5" font-weight="700" fill="#131722" letter-spacing="0.826" >2026</text>
<text transform="translate(2246.40 1300.0) scale(1.05 1)" font-size="16.8" font-weight="400" fill="#131722" letter-spacing="-0.095" >Feb</text>
<text x="68.75" y="1363.9" font-size="29" font-weight="700" fill="#17181C" letter-spacing="-0.220" stroke="#17181C" stroke-width="0.8">TradingView</text>
</svg></body></html>
